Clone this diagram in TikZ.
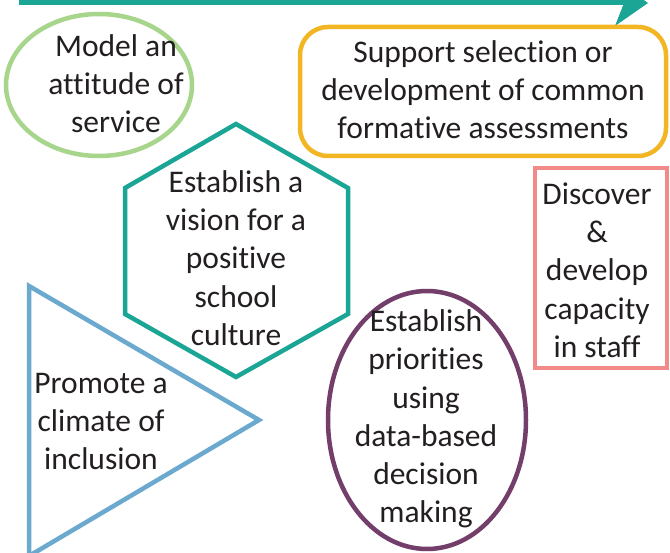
\documentclass[tikz,border=0pt]{standalone}
\usepackage{fontspec}
\setmainfont[Ligatures=NoCommon]{Carlito}
\definecolor{tealc}{HTML}{1AA595}
\definecolor{greenc}{HTML}{A8D58C}
\definecolor{yellowc}{HTML}{F2B624}
\definecolor{bluec}{HTML}{6BA9CF}
\definecolor{salmonc}{HTML}{F28A8A}
\definecolor{purplec}{HTML}{733E6A}
\definecolor{textc}{HTML}{231F20}
\tikzset{
  lbl/.style={align=center, text=textc, inner sep=0pt,
    font=\fontsize{31.5}{38.3}\selectfont},
  outline/.style={line width=4.5pt, line join=miter}
}
\begin{document}
\begin{tikzpicture}[x=1pt,y=-1pt]
\clip (0,0) rectangle (670,553);
\fill[white] (0,0) rectangle (670,553);
% top arrow
\coordinate (as) at (19,2.5);
\coordinate (ae) at (628,2.5);
\draw[tealc, line width=5pt] (as) -- (ae);
\fill[tealc] (648,3) -- (615,26) -- (624,3) -- (615,-20) -- cycle;
% green ellipse
\draw[greenc, outline] (99,85) ellipse [x radius=93, y radius=71];
\node[lbl] (model) at (116,83.5) {Model an\\attitude of\\service};
% yellow rounded rectangle
\draw[yellowc, outline, rounded corners=28pt] (300,27) rectangle (666,156);
\node[lbl] (support) at (483,89.5) {Support selection or\\development of common\\formative assessments};
% hexagon
\draw[tealc, outline] (236,124) -- (348,188) -- (348,314) -- (236,377) -- (125,314) -- (125,188) -- cycle;
\node[lbl] (vision) at (236,258) {Establish a\\vision for a\\positive\\school\\culture};
% triangle
\draw[bluec, outline] (29,286) -- (259,420) -- (29,556) -- cycle;
\node[lbl] (promote) at (101,421.5) {Promote a\\climate of\\inclusion};
% salmon rectangle
\draw[salmonc, outline] (535,168) rectangle (667,368);
\node[lbl] (discover) at (597,270) {Discover\\\&\\develop\\capacity\\in staff};
% purple ellipse
\draw[purplec, outline] (427,420) ellipse [x radius=99, y radius=129];
\node[lbl] (priorities) at (426,419) {Establish\\priorities\\using\\data-based\\decision\\making};
\end{tikzpicture}
\end{document}
